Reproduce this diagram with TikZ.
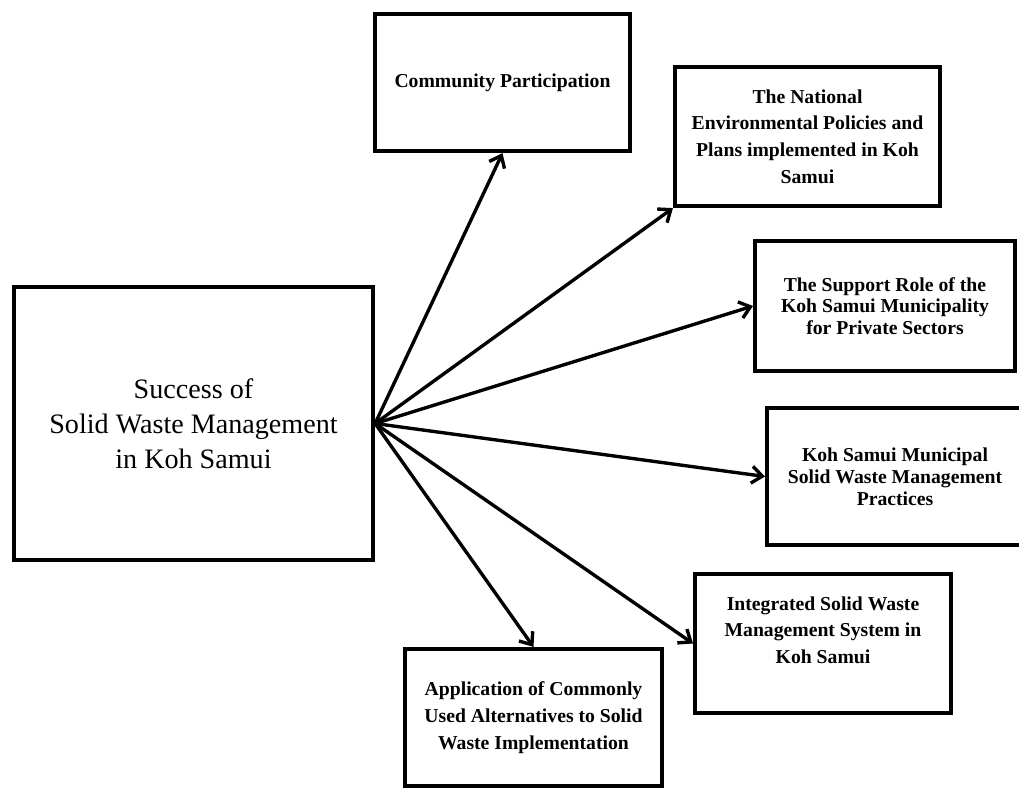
\documentclass[tikz,border=0pt]{standalone}
\usepackage{fontspec}
\setmainfont{Liberation Serif}
\usetikzlibrary{arrows.meta}

\begin{document}
\begin{tikzpicture}
        [
        x = 0.025cm, y = -0.025cm,
        factor box/.style = {rectangle, draw, line width = 2.8pt, align = center, inner sep = 0pt, font = \bfseries\fontsize{14}{19}\selectfont},
        link/.style = {-{Straight Barb[length = 7.5pt, width = 12pt]}, line width = 2.4pt},
        ]
        \tikzstyle{main box}=[rectangle,draw,line width=2.8pt,align=center,minimum width=8.98cm,minimum height=6.83cm,font=\fontsize{20}{25}\selectfont]
        \tikzstyle{tight text}=[font=\bfseries\fontsize{14}{15.5}\selectfont]

        \useasboundingbox (0,0) rectangle (1019,791);

        \node[main box] (success) at (193.5,423.5) {Success of\\Solid Waste Management\\in Koh Samui};

        \node[factor box, minimum width=6.38cm, minimum height=3.43cm] (comm) at (502.5,82.5)
            {Community Participation};
        \node[factor box, minimum width=6.63cm, minimum height=3.48cm] (nat) at (807.5,136.5)
            {The National\\Environmental Policies and\\Plans implemented in Koh\\Samui};
        \node[factor box, tight text, minimum width=6.5cm, minimum height=3.23cm] (sup) at (885,306)
            {The Support Role of the\\Koh Samui Municipality\\for Private Sectors};
        \node[factor box, tight text, minimum width=6.4cm, minimum height=3.43cm] (muni) at (895,476.5)
            {Koh Samui Municipal\\Solid Waste Management\\Practices};
        \node[factor box, minimum width=6.4cm, minimum height=3.48cm] (integ) at (823,643.5)
            {Integrated Solid Waste\\Management System in\\Koh Samui\\ \mbox{}};
        \node[factor box, minimum width=6.43cm, minimum height=3.43cm] (app) at (533.5,717.5)
            {Application of Commonly\\Used Alternatives to Solid\\Waste Implementation};

        \foreach \target/\side in {comm/south, nat/south west, sup/west, muni/west, integ/west, app/north}
            \draw[link] (success.east) -- (\target.\side);
    \end{tikzpicture}
\end{document}
